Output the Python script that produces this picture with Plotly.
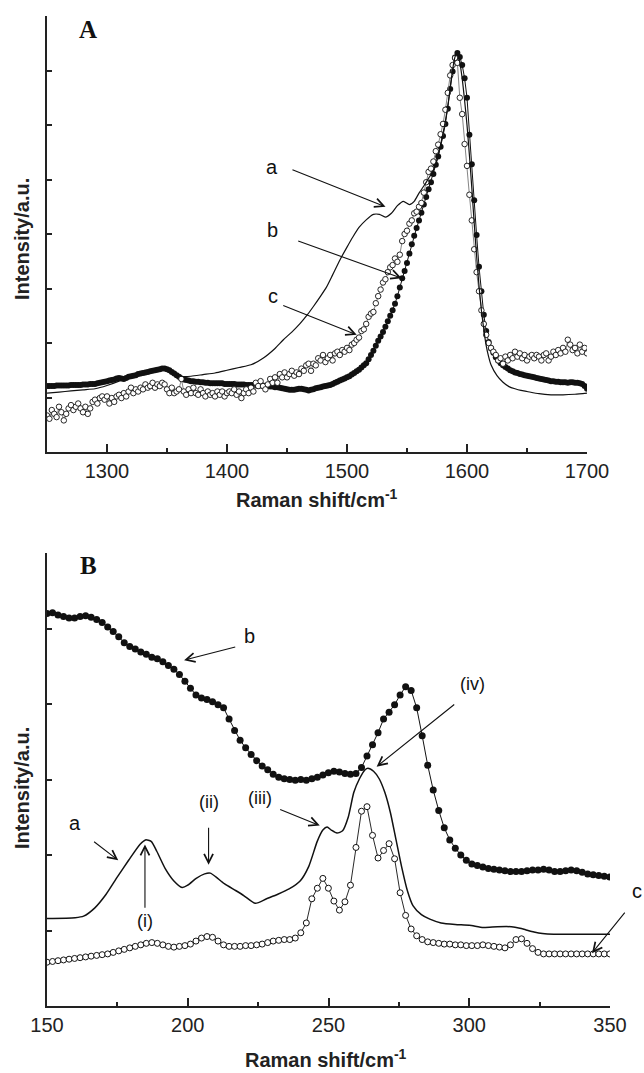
import plotly.graph_objects as go

W, H = 644, 1073

# ---------------- Panel A data (Raman shift 1250-1700 cm-1) ----------------
A_X0, A_STEP = 1250, 2
A_b = [1.21,1.21,1.21,1.21,1.22,1.22,1.22,1.22,1.22,1.22,1.23,1.23,1.23,1.23,1.23,1.24,1.24,1.24,1.25,1.25,
       1.25,1.26,1.27,1.28,1.29,1.30,1.31,1.32,1.33,1.35,1.36,1.35,1.34,1.36,1.38,1.39,1.40,1.41,1.43,1.44,
       1.45,1.46,1.47,1.48,1.49,1.50,1.51,1.52,1.53,1.53,1.52,1.50,1.47,1.44,1.41,1.38,1.35,1.33,1.32,1.31,
       1.30,1.30,1.29,1.29,1.28,1.28,1.27,1.27,1.26,1.26,1.26,1.26,1.26,1.26,1.25,1.25,1.25,1.25,1.25,1.24,
       1.24,1.24,1.24,1.23,1.23,1.23,1.23,1.22,1.22,1.22,1.22,1.21,1.21,1.20,1.20,1.19,1.19,1.18,1.17,1.16,
       1.15,1.14,1.14,1.14,1.15,1.16,1.16,1.15,1.14,1.13,1.14,1.15,1.17,1.18,1.19,1.20,1.21,1.22,1.23,1.25,
       1.27,1.29,1.31,1.33,1.35,1.37,1.39,1.42,1.45,1.48,1.51,1.55,1.59,1.63,1.70,1.78,1.86,1.95,2.04,2.12,
       2.20,2.30,2.40,2.50,2.60,2.72,2.86,3.02,3.19,3.32,3.47,3.64,3.81,3.97,4.11,4.25,4.39,4.54,4.68,4.82,
       4.95,5.10,5.27,5.42,5.60,5.80,6.02,6.30,6.66,6.98,7.24,7.32,7.25,7.10,6.86,6.50,5.82,5.28,4.62,3.98,
       3.40,2.95,2.52,2.22,2.02,1.90,1.82,1.74,1.68,1.63,1.59,1.56,1.53,1.50,1.48,1.46,1.45,1.43,1.42,1.41,
       1.40,1.39,1.38,1.37,1.36,1.35,1.34,1.33,1.32,1.31,1.30,1.30,1.29,1.29,1.28,1.28,1.28,1.27,1.28,1.28,
       1.27,1.27,1.26,1.25,1.21,1.16]
A_c = [0.67,0.61,0.77,0.70,0.64,0.83,0.73,0.58,0.70,0.80,0.86,0.77,0.83,0.89,0.80,0.73,0.83,0.70,0.80,0.92,
       0.96,0.89,0.99,1.02,0.96,1.02,0.89,0.99,0.92,1.02,1.05,0.99,1.08,1.02,1.11,1.18,1.08,1.15,1.11,1.18,
       1.15,1.24,1.18,1.21,1.27,1.18,1.24,1.21,1.27,1.24,1.15,1.08,1.18,1.08,1.11,1.15,1.34,1.11,1.05,1.15,
       1.08,1.18,1.08,1.05,1.15,1.08,1.02,1.11,1.05,1.08,1.02,1.11,1.05,1.11,1.02,1.08,1.11,1.08,1.15,1.05,
       1.11,0.99,1.08,1.15,1.08,1.18,1.11,1.27,1.21,1.30,1.21,1.15,1.24,1.34,1.27,1.37,1.27,1.43,1.37,1.46,
       1.37,1.43,1.49,1.40,1.46,1.43,1.53,1.49,1.59,1.62,1.49,1.62,1.59,1.72,1.68,1.78,1.65,1.72,1.78,1.68,
       1.81,1.84,1.78,1.87,1.84,1.91,1.87,1.97,2.00,2.06,2.10,2.22,2.25,2.35,2.48,2.54,2.57,2.73,2.86,2.98,
       3.11,3.17,3.30,3.39,3.43,3.55,3.49,3.62,3.87,4.00,4.06,4.19,4.25,4.38,4.41,4.50,4.57,4.76,4.95,5.14,
       5.20,5.33,5.52,5.64,5.83,6.02,6.28,6.59,6.91,7.10,7.23,7.14,6.50,6.20,5.65,5.25,4.72,4.25,3.72,3.30,
       2.95,2.60,2.35,2.15,2.00,1.91,1.84,1.78,1.68,1.72,1.62,1.75,1.68,1.78,1.72,1.84,1.75,1.81,1.72,1.78,
       1.68,1.75,1.78,1.72,1.78,1.75,1.68,1.78,1.81,1.68,1.75,1.84,1.78,1.87,1.81,1.91,1.84,2.06,1.97,1.87,
       1.91,1.81,1.97,1.84,1.91,1.81]
A_a_x = [1250,1260,1270,1280,1290,1300,1310,1320,1330,1340,1348,1355,1362,1370,1380,1390,1400,1410,1420,1430,
         1440,1447,1454,1461,1467,1472,1478,1483,1488,1494,1500,1505,1510,1516,1522,1527,1532,1537,1542,1547,
         1552,1556,1560,1564,1568,1572,1576,1580,1584,1587,1590,1592,1594,1596,1598,1600,1602,1604,1606,1608,
         1610,1612,1614,1616,1618,1620,1625,1630,1635,1640,1645,1650,1660,1670,1680,1690,1700]
A_a_y = [1.08,1.10,1.12,1.14,1.16,1.22,1.30,1.40,1.45,1.50,1.52,1.46,1.39,1.39,1.42,1.45,1.50,1.55,1.60,1.72,
         1.90,2.06,2.20,2.36,2.52,2.67,2.86,3.03,3.25,3.52,3.76,3.95,4.12,4.26,4.36,4.36,4.31,4.38,4.52,4.60,
         4.54,4.60,4.75,4.88,5.02,5.17,5.45,5.85,6.34,6.86,7.25,7.32,7.15,6.85,6.45,6.00,5.45,4.85,4.20,3.60,
         3.05,2.60,2.25,1.95,1.75,1.60,1.40,1.28,1.20,1.16,1.13,1.11,1.07,1.05,1.05,1.06,1.08]

# ---------------- Panel B data (Raman shift 150-350 cm-1) ----------------
B_X0, B_STEP = 150, 1.96
B_b = [5.20,5.21,5.18,5.16,5.14,5.14,5.16,5.17,5.15,5.12,5.08,5.02,4.96,4.89,4.81,4.76,4.73,4.69,4.66,4.62,
       4.60,4.56,4.51,4.46,4.39,4.30,4.21,4.12,4.08,4.06,4.03,3.99,3.95,3.80,3.65,3.52,3.42,3.33,3.25,3.18,
       3.13,3.07,3.03,3.01,3.00,2.99,3.00,2.99,3.01,3.03,3.06,3.09,3.11,3.10,3.08,3.07,3.08,3.16,3.31,3.46,
       3.62,3.80,3.89,3.99,4.12,4.23,4.18,3.95,3.58,3.19,2.86,2.59,2.36,2.20,2.09,2.00,1.93,1.88,1.86,1.84,
       1.82,1.81,1.80,1.79,1.78,1.78,1.78,1.79,1.80,1.80,1.81,1.80,1.78,1.78,1.79,1.80,1.79,1.77,1.75,1.74,
       1.73,1.72,1.71]
B_c = [0.58,0.59,0.60,0.61,0.62,0.63,0.64,0.65,0.66,0.67,0.68,0.69,0.71,0.73,0.75,0.77,0.79,0.81,0.83,0.84,
       0.83,0.81,0.79,0.78,0.79,0.80,0.82,0.86,0.90,0.92,0.91,0.86,0.81,0.79,0.79,0.79,0.80,0.80,0.81,0.82,
       0.84,0.86,0.87,0.88,0.88,0.90,0.97,1.10,1.42,1.56,1.69,1.56,1.39,1.27,1.38,1.60,2.10,2.58,2.64,2.26,
       1.96,2.06,2.15,1.95,1.50,1.20,1.02,0.93,0.88,0.85,0.84,0.83,0.82,0.82,0.81,0.81,0.80,0.80,0.80,0.81,
       0.80,0.79,0.78,0.77,0.81,0.88,0.89,0.83,0.76,0.71,0.69,0.69,0.69,0.69,0.69,0.69,0.69,0.69,0.69,0.69,
       0.69,0.69,0.69]
B_a_x = [150,160,163,167,171,175,179,183,185,187,189,192,195,198,200,203,206,208,210,213,217,220,224,228,232,
         236,240,243,246,248,249.5,251,253,255,257,259,261,263,264,266,268,270,272,274,276,278,280,283,286,290,
         295,300,305,310,315,318,320,323,326,330,340,350]
B_a_y = [1.16,1.17,1.19,1.30,1.48,1.71,1.93,2.14,2.20,2.18,2.05,1.82,1.66,1.57,1.60,1.69,1.75,1.76,1.71,1.62,
         1.53,1.46,1.36,1.42,1.48,1.55,1.66,1.85,2.18,2.33,2.37,2.33,2.29,2.32,2.50,2.83,3.01,3.13,3.15,3.11,
         3.01,2.83,2.56,2.20,1.84,1.53,1.33,1.21,1.15,1.10,1.08,1.07,1.04,1.05,1.05,1.03,1.01,0.98,0.96,0.95,
         0.95,0.95]

A_x_grid = [A_X0 + A_STEP * i for i in range(len(A_b))]
A_xc_grid = [A_X0 + A_STEP * i for i in range(len(A_c))]
B_xb_grid = [B_X0 + B_STEP * i for i in range(len(B_b))]
B_xc_grid = [B_X0 + B_STEP * i for i in range(len(B_c))]

INK = "#111111"
AX = "#222222"

fig = go.Figure()
# Panel A
fig.add_trace(go.Scatter(x=A_x_grid, y=A_b, mode="lines+markers", xaxis="x", yaxis="y",
                         line=dict(color=INK, width=1),
                         marker=dict(size=6, color=INK, line=dict(width=0)), showlegend=False))
fig.add_trace(go.Scatter(x=A_xc_grid, y=A_c, mode="lines+markers", xaxis="x", yaxis="y",
                         line=dict(color="#666666", width=0.8),
                         marker=dict(size=5.5, color="white", line=dict(color=INK, width=0.9)),
                         showlegend=False))
fig.add_trace(go.Scatter(x=A_a_x, y=A_a_y, mode="lines", xaxis="x", yaxis="y",
                         line=dict(color=INK, width=1.2, shape="spline", smoothing=0.6), showlegend=False))
# Panel B
fig.add_trace(go.Scatter(x=B_xb_grid, y=B_b, mode="lines+markers", xaxis="x2", yaxis="y2",
                         line=dict(color=INK, width=1),
                         marker=dict(size=7, color=INK, line=dict(width=0)), showlegend=False))
fig.add_trace(go.Scatter(x=B_xc_grid, y=B_c, mode="lines+markers", xaxis="x2", yaxis="y2",
                         line=dict(color=INK, width=0.9),
                         marker=dict(size=6, color="white", line=dict(color=INK, width=1)),
                         showlegend=False))
fig.add_trace(go.Scatter(x=B_a_x, y=B_a_y, mode="lines", xaxis="x2", yaxis="y2",
                         line=dict(color=INK, width=1.5, shape="spline", smoothing=0.6), showlegend=False))

def px_x(p):
    return p / W

def px_y(p):
    return 1 - p / H

tick_font = dict(family="Liberation Sans, Arial, sans-serif", size=20, color="#222")

common_x = dict(showline=True, linecolor=AX, linewidth=1.8, ticks="inside", ticklen=8, tickwidth=1.5,
                tickcolor=AX, showgrid=False, zeroline=False, tickfont=tick_font, automargin=False)
common_y = dict(showline=True, linecolor=AX, linewidth=1.8, ticks="inside", ticklen=5, tickwidth=1.5,
                tickcolor=AX, showgrid=False, zeroline=False, showticklabels=False, automargin=False)

fig.update_layout(
    width=W, height=H, margin=dict(l=0, r=0, t=0, b=0),
    paper_bgcolor="white", plot_bgcolor="white",
    xaxis=dict(common_x, domain=[px_x(47), px_x(587)], range=[1250, 1700], anchor="y",
               tickvals=[1300, 1400, 1500, 1600, 1700],
               minor=dict(ticks="inside", ticklen=4, tickwidth=1.5, tickcolor=AX,
                          tickvals=[1350, 1450, 1550, 1650])),
    yaxis=dict(common_y, domain=[px_y(452), px_y(16)], range=[0, 8], anchor="x",
               tickvals=list(range(0, 9))),
    xaxis2=dict(common_x, domain=[px_x(47), px_x(610)], range=[150, 350], anchor="y2",
                tickvals=[150, 200, 250, 300, 350],
                minor=dict(ticks="inside", ticklen=4, tickwidth=1.5, tickcolor=AX,
                           tickvals=[175, 225, 275, 325])),
    yaxis2=dict(common_y, domain=[px_y(1006), px_y(553)], range=[0, 6], anchor="x2",
                tickvals=list(range(0, 7))),
)

lab_font = dict(family="Liberation Sans, Arial, sans-serif", size=20, color="#111")
rom_font = dict(family="Liberation Sans, Arial, sans-serif", size=18, color="#111")
title_font = dict(family="Liberation Sans, Arial, sans-serif", size=20, color="#222")
panel_font = dict(family="Liberation Serif, Times New Roman, serif", size=25, color="#111")

ann = []
# axis titles
for (cx, cy) in [(317, 498), (326, 1058)]:
    ann.append(dict(text="<b>Raman shift/cm<sup>-1</sup></b>", x=px_x(cx), y=px_y(cy), xref="paper", yref="paper",
                    showarrow=False, font=title_font, xanchor="center", yanchor="middle"))
for (cx, cy) in [(22, 239), (22, 788)]:
    ann.append(dict(text="<b>Intensity/a.u.</b>", x=px_x(cx), y=px_y(cy), xref="paper", yref="paper",
                    showarrow=False, font=title_font, textangle=-90, xanchor="center", yanchor="middle"))
# panel letters
ann.append(dict(text="<b>A</b>", x=1284.2, y=7.76, xref="x", yref="y", showarrow=False, font=panel_font))
ann.append(dict(text="<b>B</b>", x=164.6, y=5.83, xref="x2", yref="y2", showarrow=False, font=panel_font))

def label(t, x, y, ax, font=lab_font):
    ann.append(dict(text=t, x=x, y=y, xref="x" if ax == 1 else "x2", yref="y" if ax == 1 else "y2",
                    showarrow=False, font=font))

def arrow(x0, y0, x1, y1, ax):
    xr = "x" if ax == 1 else "x2"
    yr = "y" if ax == 1 else "y2"
    ann.append(dict(text="", x=x1, y=y1, ax=x0, ay=y0, xref=xr, yref=yr, axref=xr, ayref=yr,
                    showarrow=True, arrowhead=5, arrowsize=1.6, arrowwidth=1.1, arrowcolor=INK,
                    standoff=0, startstandoff=0))

# Panel A labels
label("a", 1437.8, 5.23, 1); arrow(1453.3, 5.19, 1532.1, 4.50, 1)
label("b", 1438.3, 4.07, 1); arrow(1458.1, 3.88, 1545.6, 3.19, 1)
label("c", 1438.3, 2.86, 1); arrow(1445.6, 2.70, 1508.1, 2.15, 1)
# Panel B labels
label("b", 222.1, 4.90, 2); arrow(217.4, 4.76, 198.7, 4.58, 2)
label("(iv)", 301.0, 4.27, 2, rom_font); arrow(295.2, 4.01, 267.1, 3.17, 2)
label("(iii)", 225.7, 2.75, 2, rom_font); arrow(232.3, 2.61, 246.9, 2.39, 2)
label("(ii)", 207.4, 2.70, 2, rom_font); arrow(207.4, 2.38, 207.4, 1.87, 2)
label("a", 160.0, 2.43, 2); arrow(166.2, 2.19, 175.3, 1.93, 2)
label("(i)", 184.8, 1.13, 2, rom_font); arrow(184.8, 1.28, 184.8, 2.14, 2)
# "c" of panel B sits to the right of the plot area: place it in paper coordinates
ann.append(dict(text="c", x=px_x(637), y=px_y(891), xref="paper", yref="paper", showarrow=False,
                font=lab_font, xanchor="center", yanchor="middle"))
ann.append(dict(text="", x=343.6, y=0.70, xref="x2", yref="y2", ax=34, ay=-42, axref="pixel", ayref="pixel",
                showarrow=True, arrowhead=5, arrowsize=1.6, arrowwidth=1.1, arrowcolor=INK,
                standoff=0, startstandoff=0))

fig.update_layout(annotations=ann)

fig.write_html("out.html")
